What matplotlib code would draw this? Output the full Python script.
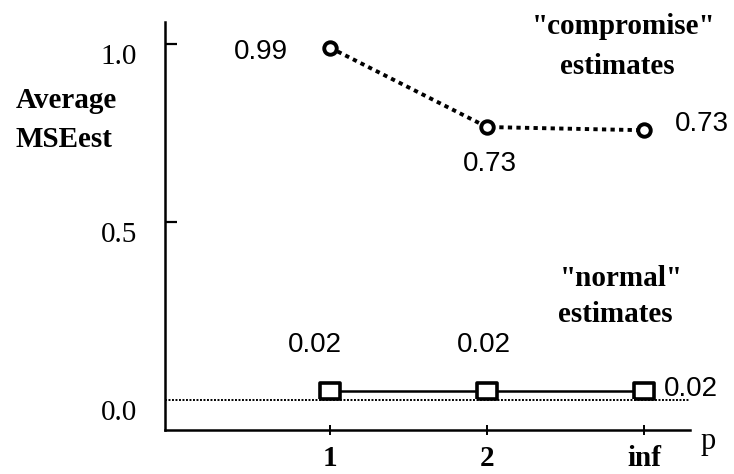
import matplotlib
matplotlib.use("Agg")
import matplotlib.pyplot as plt

# ---- data ----
p_labels = ["1", "2", "inf"]
p_pos = [1, 2, 3]
compromise_vals = [0.99, 0.767, 0.758]
compromise_text = ["0.99", "0.73", "0.73"]
normal_vals = [0.025, 0.025, 0.025]
normal_text = ["0.02", "0.02", "0.02"]
y_ticks = [0.0, 0.5, 1.0]
y_ticklabels = ["0.0", "0.5", "1.0"]

W, H = 734, 474
fig = plt.figure(figsize=(W / 100, H / 100), dpi=100)
ax = fig.add_axes([165 / W, 1 - 430 / H, (690 - 165) / W, (430 - 22) / H])
ax.set_xlim(-0.051, 3.293)
ax.set_ylim(-0.084, 1.062)

serif = "Liberation Serif"
sans = "Liberation Sans"

# baseline dotted at zero
ax.axhline(0, color="black", lw=1.4, ls=(0, (1, 0.8)), zorder=1)

# normal estimates
ax.plot(p_pos, normal_vals, color="black", lw=1.8, zorder=2)
rect = [(-1.25, -1), (1.25, -1), (1.25, 1), (-1.25, 1), (-1.25, -1)]
ax.plot(p_pos, normal_vals, ls="none", marker=rect, ms=15, mfc="white",
        mec="black", mew=2.6, zorder=3)

# compromise estimates
ax.plot(p_pos, compromise_vals, color="black", lw=2.8, ls=(0, (1.1, 1.1)), zorder=2)
ax.plot(p_pos, compromise_vals, ls="none", marker="o", ms=9, mfc="white",
        mec="black", mew=2.8, zorder=3)

# value labels
comp_offsets = [(-49.7, -3.2), (2, -26.6), (41.8, 4.3)]
for x, y, t, (dx, dy) in zip(p_pos, compromise_vals, compromise_text, comp_offsets):
    ax.annotate(t, (x, y), xytext=(dx, dy), textcoords="offset points",
                ha="center", va="center", fontsize=20, family=sans)
norm_offsets = [(-10.8, 33), (-2, 33), (34, 1.4)]
for x, y, t, (dx, dy) in zip(p_pos, normal_vals, normal_text, norm_offsets):
    ax.annotate(t, (x, y), xytext=(dx, dy), textcoords="offset points",
                ha="center", va="center", fontsize=20, family=sans)

# axes styling
for s in ["top", "right"]:
    ax.spines[s].set_visible(False)
for s in ["left", "bottom"]:
    ax.spines[s].set_linewidth(1.8)

ax.set_xticks(p_pos)
ax.set_xticklabels(p_labels, fontsize=21, family=serif, fontweight="bold")
ax.tick_params(axis="x", direction="inout", length=7, width=1.4, pad=7.5)

ax.set_yticks(y_ticks)
ax.set_yticklabels(y_ticklabels, fontsize=21, family=serif)
ax.tick_params(axis="y", direction="in", length=8.6, width=1.6, pad=20)
for lbl in ax.get_yticklabels():
    lbl.set_va("top")
ax.yaxis.get_major_ticks()[0].tick1line.set_visible(False)

# titles / annotations
fig.text(16 / W, 1 - 100 / H, "Average", ha="left", va="center",
         fontsize=21, family=serif, fontweight="bold")
fig.text(16 / W, 1 - 139 / H, "MSEest", ha="left", va="center",
         fontsize=21, family=serif, fontweight="bold")
fig.text(708 / W, 1 - 442 / H, "p", ha="center", va="center",
         fontsize=22, family=serif)

fig.text(624 / W, 1 - 27 / H, '"compromise"', ha="center", va="center",
         fontsize=21, family=serif, fontweight="bold")
fig.text(617 / W, 1 - 66 / H, "estimates", ha="center", va="center",
         fontsize=21, family=serif, fontweight="bold")
fig.text(621 / W, 1 - 278 / H, '"normal"', ha="center", va="center",
         fontsize=21, family=serif, fontweight="bold")
fig.text(615 / W, 1 - 315 / H, "estimates", ha="center", va="center",
         fontsize=21, family=serif, fontweight="bold")

fig.savefig("out.png", dpi=100)
